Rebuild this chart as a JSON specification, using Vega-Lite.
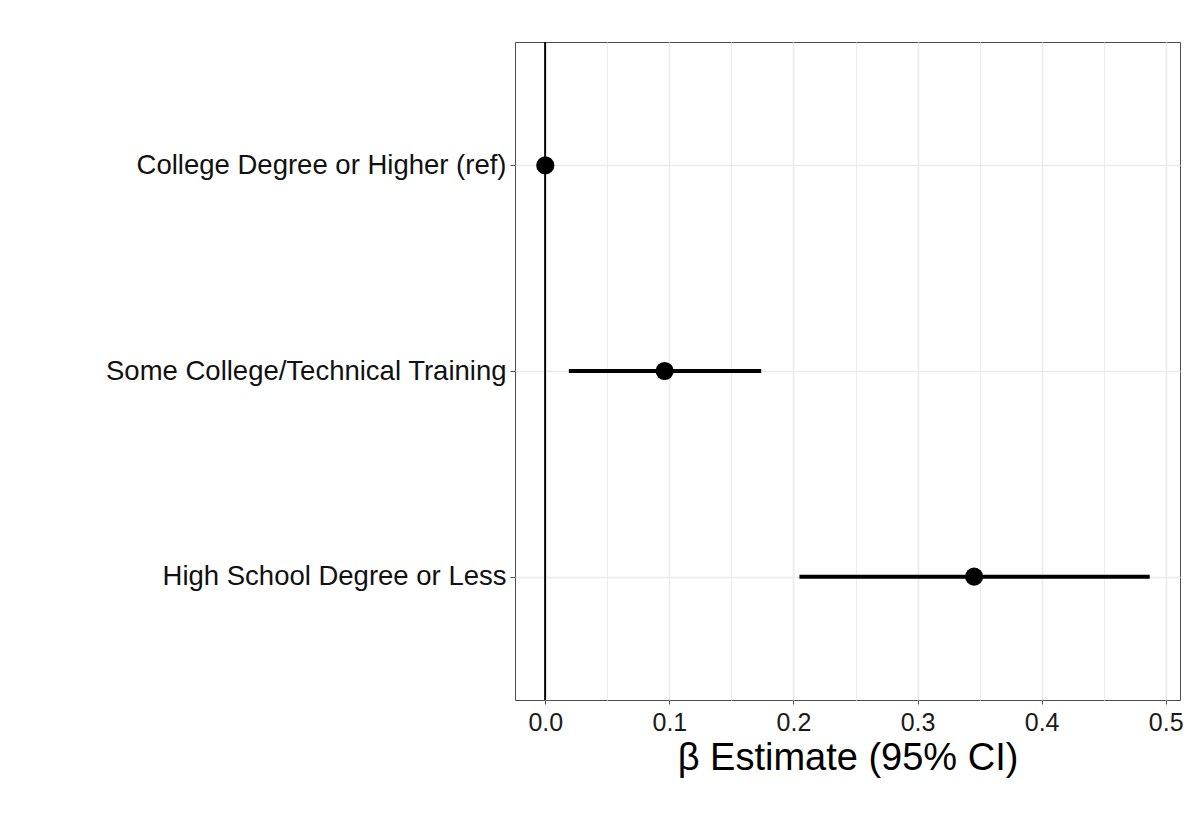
{
  "$schema": "https://vega.github.io/schema/vega-lite/v6.json",
  "autosize": {"type": "none"},
  "padding": {"left": 515, "top": 42, "right": 16, "bottom": 126},
  "width": 665,
  "height": 658,
  "background": "white",
  "config": {
    "font": "Liberation Sans",
    "view": {"stroke": "#4d4d4d", "strokeWidth": 1}
  },
  "data": {
    "values": [
      {"term": "College Degree or Higher (ref)", "est": 0, "lo": null, "hi": null},
      {"term": "Some College/Technical Training", "est": 0.0962, "lo": 0.019, "hi": 0.174},
      {"term": "High School Degree or Less", "est": 0.3456, "lo": 0.2048, "hi": 0.4871}
    ]
  },
  "layer": [
    {
      "mark": {"type": "rule", "color": "black", "strokeWidth": 1.5},
      "encoding": {
        "x": {
          "datum": 0,
          "type": "quantitative",
          "scale": {"domain": [-0.0244, 0.5115], "nice": false, "zero": false},
          "axis": {
            "orient": "top",
            "grid": true,
            "gridColor": "#EBEBEB",
            "gridWidth": 1,
            "values": [0.05, 0.15, 0.25, 0.35, 0.45],
            "labels": false,
            "ticks": false,
            "domain": false,
            "title": null
          }
        }
      }
    },
    {
      "mark": {"type": "rule", "color": "black", "strokeWidth": 4},
      "encoding": {
        "x": {
          "field": "lo",
          "type": "quantitative",
          "axis": {
            "orient": "bottom",
            "values": [0, 0.1, 0.2, 0.3, 0.4, 0.5],
            "format": ".1f",
            "grid": true,
            "gridColor": "#EBEBEB",
            "gridWidth": 1.6,
            "domain": false,
            "ticks": true,
            "tickSize": 4,
            "tickColor": "#4d4d4d",
            "tickWidth": 1,
            "labelFontSize": 25,
            "labelColor": "#1a1a1a",
            "labelPadding": 6,
            "title": "β Estimate (95% CI)",
            "titleFontSize": 38,
            "titleFontWeight": "normal",
            "titleColor": "black",
            "titlePadding": 4
          }
        },
        "x2": {"field": "hi"},
        "y": {
          "field": "term",
          "type": "nominal",
          "sort": null,
          "scale": {
            "type": "point",
            "padding": 0.6,
            "domain": ["College Degree or Higher (ref)", "Some College/Technical Training", "High School Degree or Less"]
          },
          "axis": {
            "grid": true,
            "gridColor": "#EBEBEB",
            "gridWidth": 1.6,
            "domain": false,
            "tickSize": 5,
            "tickColor": "#4d4d4d",
            "labelFontSize": 27.5,
            "labelColor": "#111111",
            "labelPadding": 4,
            "labelLimit": 600,
            "title": null
          }
        }
      }
    },
    {
      "mark": {"type": "point", "filled": true, "color": "black", "size": 330, "opacity": 1},
      "encoding": {
        "x": {"field": "est", "type": "quantitative", "axis": null},
        "y": {"field": "term", "type": "nominal", "sort": null}
      }
    }
  ],
  "resolve": {"axis": {"x": "independent"}}
}
